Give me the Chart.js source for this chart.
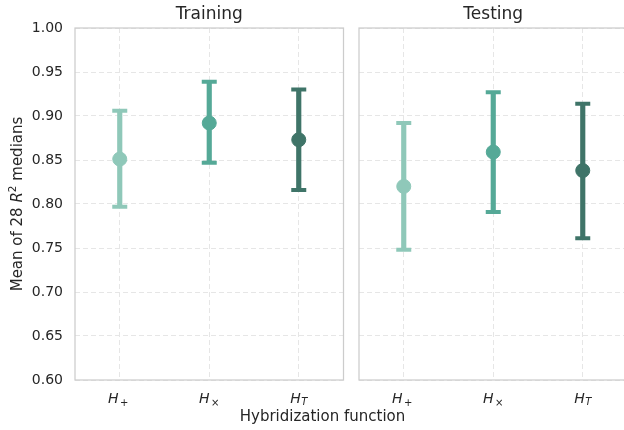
<!DOCTYPE html>
<html>
<head>
<meta charset="utf-8">
<script src="https://cdn.jsdelivr.net/npm/chart.js@4.4.1/dist/chart.umd.min.js"></script>
<style>
    body { margin: 0; background: #ffffff; overflow: hidden; width: 624px; height: 430px; position: relative; }
    canvas { position: absolute; top: 0; }
    #xlabel {
        position: absolute; left: 0; width: 645px; top: 408px;
        text-align: center; font: 15px "DejaVu Sans"; color: #262626; line-height: 16px;
    }
</style>
</head>
<body>
<canvas id="trainChart" width="345" height="430" style="left:0;"></canvas>
<canvas id="testChart" width="290" height="430" style="left:345px;"></canvas>
<div id="xlabel">Hybridization function</div>
<script>
// hybridization functions, H with a subscript
const categories = ["H+", "H×", "HT"];
const subscripts = ["+", "×", "T"];

// mean of the 28 R^2 medians, with the error bar ends
const trainMean = [0.851, 0.892, 0.873];
const trainLow = [0.797, 0.847, 0.816];
const trainHigh = [0.906, 0.939, 0.930];

const testMean = [0.820, 0.859, 0.838];
const testLow = [0.748, 0.791, 0.761];
const testHigh = [0.892, 0.927, 0.914];

// y axis ticks
const yMin = 0.6;
const yMax = 1.0;
const yStep = 0.05;

const colors = ["#8fc8b9", "#55a997", "#3f7468"];
const textColor = "#262626";

Chart.defaults.font.family = '"DejaVu Sans"';
Chart.defaults.color = textColor;

// frame, panel title, math tick labels and y title
const panelDecor = {
    id: "panelDecor",
    afterDraw(chart, args, opts) {
        const ctx = chart.ctx;
        const a = chart.chartArea;
        ctx.save();
        ctx.strokeStyle = "#cccccc";
        ctx.lineWidth = 1.25;
        ctx.strokeRect(a.left, a.top, a.right - a.left, a.bottom - a.top);

        ctx.fillStyle = textColor;
        ctx.textAlign = "center";
        ctx.textBaseline = "alphabetic";
        ctx.font = '17px "DejaVu Sans"';
        ctx.fillText(opts.title, (a.left + a.right) / 2, 19);

        // x tick labels H_+, H_x, H_T
        const xs = chart.scales.x;
        ctx.textAlign = "left";
        subscripts.forEach((sub, i) => {
            const x = xs.getPixelForTick(i);
            ctx.font = 'italic 14px "DejaVu Sans"';
            const wH = ctx.measureText("H").width;
            const subFont = (sub === "T" ? "italic " : "") + '10px "DejaVu Sans"';
            ctx.font = subFont;
            const wS = ctx.measureText(sub).width;
            const gap = sub === "T" ? 0.5 : 1.5;
            const start = x - (wH + gap + wS) / 2 - (sub === "+" ? 1.5 : 0);
            ctx.font = 'italic 14px "DejaVu Sans"';
            ctx.fillText("H", start, 403);
            ctx.font = subFont;
            ctx.fillText(sub, start + wH + gap, sub === "T" ? 405 : 406);
        });

        // y title: Mean of 28 R^2 medians
        if (opts.yTitle) {
            const parts = [
                { t: "Mean of 28 ", f: '15px "DejaVu Sans"', dy: 0 },
                { t: "R", f: 'italic 15px "DejaVu Sans"', dy: 0 },
                { t: "2", f: '10.5px "DejaVu Sans"', dy: -6 },
                { t: " medians", f: '15px "DejaVu Sans"', dy: 0 },
            ];
            let total = 0;
            parts.forEach((p) => {
                ctx.font = p.f;
                p.w = ctx.measureText(p.t).width;
                total += p.w;
            });
            ctx.translate(22, (a.top + a.bottom) / 2);
            ctx.rotate(-Math.PI / 2);
            let px = -total / 2;
            parts.forEach((p) => {
                ctx.font = p.f;
                ctx.fillText(p.t, px, p.dy);
                px += p.w;
            });
        }
        ctx.restore();
    },
};

function makePanel(id, mean, low, high, title, showY, padding) {
    return new Chart(document.getElementById(id), {
        type: "bar",
        data: {
            labels: categories,
            datasets: [
                {
                    // mean marker
                    type: "line",
                    data: mean,
                    showLine: false,
                    pointRadius: 7,
                    pointBorderWidth: 1,
                    pointBackgroundColor: colors,
                    pointBorderColor: colors,
                    order: 1,
                },
                {
                    // lower cap
                    type: "line",
                    data: low,
                    showLine: false,
                    pointStyle: "line",
                    pointRadius: 7.5,
                    pointBorderWidth: 4,
                    pointBorderColor: colors,
                    order: 2,
                },
                {
                    // upper cap
                    type: "line",
                    data: high,
                    showLine: false,
                    pointStyle: "line",
                    pointRadius: 7.5,
                    pointBorderWidth: 4,
                    pointBorderColor: colors,
                    order: 2,
                },
                {
                    // error bar line
                    type: "bar",
                    data: low.map((l, i) => [l, high[i]]),
                    backgroundColor: colors,
                    barThickness: 4.5,
                    borderSkipped: false,
                    order: 3,
                },
            ],
        },
        options: {
            responsive: false,
            animation: false,
            layout: { padding: padding, autoPadding: false },
            plugins: {
                legend: { display: false },
                tooltip: { enabled: false },
                panelDecor: { title: title, yTitle: showY },
            },
            scales: {
                x: {
                    ticks: { display: false },
                    grid: { offset: false, color: "#e6e6e6", drawTicks: false },
                    border: { display: false, dash: [5, 3] },
                    afterFit: (s) => { s.height = 50; },
                },
                y: {
                    min: yMin,
                    max: yMax,
                    ticks: {
                        display: showY,
                        stepSize: yStep,
                        padding: 12,
                        font: { size: 14 },
                        color: textColor,
                        callback: (v) => v.toFixed(2),
                    },
                    grid: { color: "#e6e6e6", drawTicks: false },
                    border: { display: false, dash: [5, 3] },
                    afterFit: (s) => { s.width = showY ? 75 : 0; },
                },
            },
        },
        plugins: [panelDecor],
    });
}

makePanel("trainChart", trainMean, trainLow, trainHigh, "Training", true,
    { left: 0, right: 1.5, top: 28, bottom: 0 });
makePanel("testChart", testMean, testLow, testHigh, "Testing", false,
    { left: 14, right: 7.5, top: 28, bottom: 0 });
</script>
</body>
</html>
